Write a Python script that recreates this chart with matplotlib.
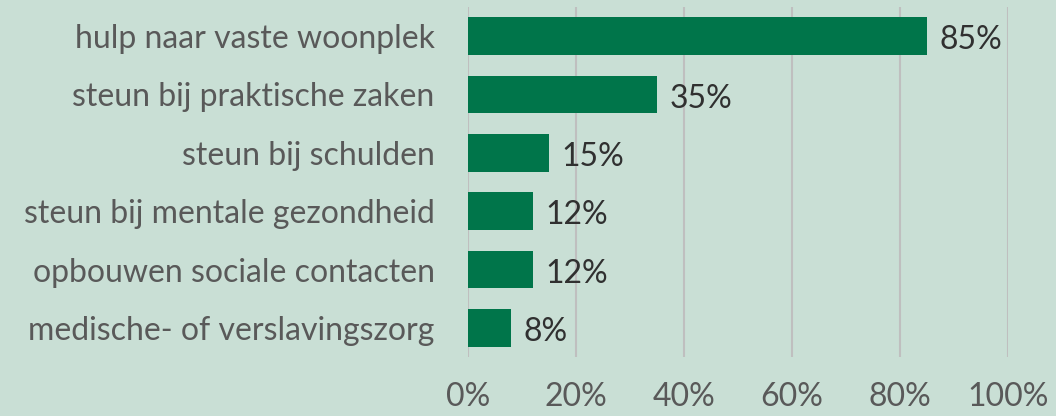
import matplotlib
matplotlib.use("Agg")
import matplotlib.pyplot as plt

categories = ["hulp naar vaste woonplek", "steun bij praktische zaken", "steun bij schulden",
              "steun bij mentale gezondheid", "opbouwen sociale contacten", "medische- of verslavingszorg"]
values = [85, 35, 15, 12, 12, 8]
xticks = [0, 20, 40, 60, 80, 100]
xticklabels = ["0%", "20%", "40%", "60%", "80%", "100%"]

bg = "#C9DFD5"
plt.rcParams['font.family'] = ['Lato', 'DejaVu Sans']

fig = plt.figure(figsize=(10.56, 4.16), dpi=100, facecolor=bg)
ax = fig.add_axes([468/1056, 1-357/416, 540/1056, 350/416], facecolor=bg)

ypos = list(range(len(categories)))
ax.barh(ypos, values, height=0.65, color="#00754A", zorder=3)
for y, v in zip(ypos, values):
    ax.text(v + 2.3, y + 0.07, f"{v}%", va="center", ha="left", fontsize=23,
            color="#303030", zorder=4)

ax.set_ylim(len(categories) - 0.5, -0.5)
ax.set_xlim(0, 100)
ax.set_yticks(ypos)
ax.set_yticklabels(categories, fontsize=23, color="#595959")
ax.set_xticks(xticks)
ax.set_xticklabels(xticklabels, fontsize=23, color="#595959")
ax.tick_params(axis="y", length=0, pad=24)
ax.tick_params(axis="x", length=0, pad=18)
ax.grid(axis="x", color="#BFBFBF", linewidth=1.5, zorder=0)
for s in ax.spines.values():
    s.set_visible(False)

fig.savefig("out.png", dpi=100, facecolor=bg)
